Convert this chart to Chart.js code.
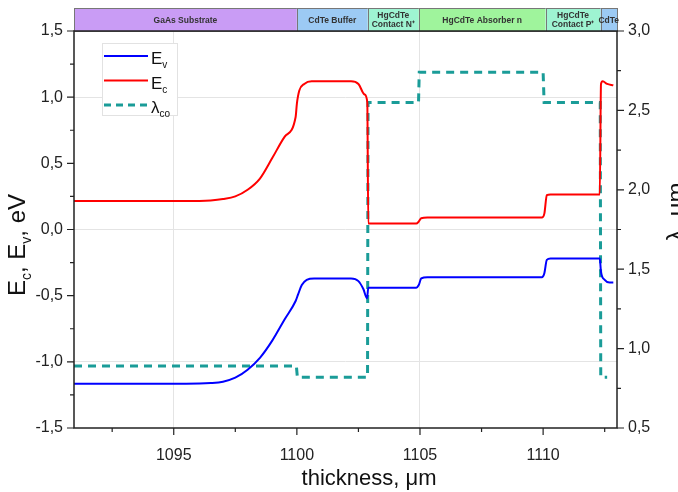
<!DOCTYPE html>
<html>
<head>
<meta charset="utf-8">
<script src="https://cdn.jsdelivr.net/npm/chart.js@4.4.1/dist/chart.umd.min.js"></script>
<style>
  body { margin: 0; background: #fff; }
  canvas { display: block; }
</style>
</head>
<body>
<canvas id="bandChart" width="678" height="492"></canvas>
<script>
const FONT = '"Liberation Sans", Arial, sans-serif';

// valence band edge Ev, eV (left axis)
const evThickness = [1090.95, 1095.5, 1096.5, 1097.0, 1097.5, 1098.0, 1098.5, 1099.0, 1099.5, 1099.95, 1100.05, 1100.2, 1100.4, 1100.7,
  1102.2, 1102.5, 1102.7, 1102.85, 1102.9, 1104.85, 1104.95, 1105.05, 1105.3, 1109.95, 1110.05, 1110.15, 1110.3,
  1112.3, 1112.35, 1112.5, 1112.7, 1112.85];
const evValues = [-1.165, -1.165, -1.16, -1.15, -1.12, -1.06, -0.97, -0.84, -0.68, -0.54, -0.49, -0.42, -0.38, -0.37,
  -0.37, -0.39, -0.45, -0.52, -0.44, -0.44, -0.42, -0.37, -0.36, -0.36, -0.33, -0.23, -0.22,
  -0.22, -0.32, -0.38, -0.40, -0.40];

// conduction band edge Ec, eV (left axis)
const ecThickness = [1090.95, 1095.5, 1096.5, 1097.0, 1097.5, 1098.0, 1098.5, 1099.0, 1099.5, 1099.95, 1100.0, 1100.1, 1100.3, 1100.6,
  1102.2, 1102.5, 1102.75, 1102.86, 1102.9, 1104.85, 1104.95, 1105.05, 1105.3, 1109.95, 1110.05, 1110.15, 1110.3,
  1112.3, 1112.35, 1112.42, 1112.6, 1112.85];
const ecValues = [0.215, 0.215, 0.22, 0.23, 0.25, 0.30, 0.385, 0.54, 0.70, 0.85, 0.95, 1.05, 1.10, 1.12,
  1.12, 1.10, 1.02, 0.96, 0.045, 0.045, 0.06, 0.085, 0.09, 0.09, 0.12, 0.26, 0.265,
  0.265, 1.10, 1.12, 1.10, 1.09];

// cut-off wavelength, um (right axis)
const lambdaThickness = [1090.95, 1099.98, 1100.02, 1102.87, 1102.89, 1104.94, 1104.97, 1110.0, 1110.04, 1112.32, 1112.34, 1112.6];
const lambdaValues = [0.89, 0.89, 0.82, 0.82, 2.55, 2.55, 2.74, 2.74, 2.55, 2.55, 0.82, 0.82];

// layer stack above the plot
const layerNames = [["GaAs Substrate"], ["CdTe Buffer"], ["HgCdTe", "Contact N\u207A"], ["HgCdTe Absorber n"], ["HgCdTe", "Contact P\u207A"], ["CdTe"]];
const layerStarts = [1090.95, 1100.0, 1102.88, 1104.95, 1110.1, 1112.33];
const layerEnds = [1100.0, 1102.88, 1104.95, 1110.1, 1112.33, 1113.0];
const layerColors = ["#c99cf5", "#9ccaf4", "#9ef4d2", "#9ff49c", "#9ef4d2", "#9ccaf4"];

// labelled ticks
const thicknessTicks = [1095, 1100, 1105, 1110];
const energyTicks = [-1.5, -1.0, -0.5, 0.0, 0.5, 1.0, 1.5];
const lambdaTicks = [0.5, 1.0, 1.5, 2.0, 2.5, 3.0];
const thicknessGrid = [1095, 1105];
const energyGrid = [-1.0, 0.0, 1.0];

const has = (list, v) => list.some(t => Math.abs(t - v) < 1e-6);
const comma = v => v.toFixed(1).replace(".", ",");
const pts = (xs, ys) => xs.map((x, i) => ({ x, y: ys[i] }));

function richText(ctx, parts, x, y, size, align) {
  const subSize = Math.round(size * 0.6);
  const widths = parts.map(([t, sub]) => {
    ctx.font = (sub ? subSize : size) + "px " + FONT;
    return ctx.measureText(t).width;
  });
  const total = widths.reduce((a, b) => a + b, 0);
  let cx = align === "center" ? x - total / 2 : x;
  ctx.textAlign = "left";
  ctx.textBaseline = "alphabetic";
  parts.forEach(([t, sub], i) => {
    ctx.font = (sub ? subSize : size) + "px " + FONT;
    ctx.fillText(t, cx, sub ? y + size * 0.25 : y);
    cx += widths[i];
  });
}

const layerBand = {
  id: "layerBand",
  afterDraw(chart) {
    const { ctx, chartArea } = chart;
    const x = chart.scales.x;
    const top = 8, bottom = chartArea.top;
    ctx.save();
    layerStarts.forEach((s, i) => {
      const x0 = x.getPixelForValue(Math.max(s, x.min));
      const x1 = x.getPixelForValue(Math.min(layerEnds[i], x.max));
      ctx.fillStyle = layerColors[i];
      ctx.fillRect(x0, top, x1 - x0, bottom - top);
      ctx.strokeStyle = "#777";
      ctx.lineWidth = 1;
      ctx.strokeRect(Math.round(x0) + 0.5, top + 0.5, Math.round(x1 - x0), bottom - top);
      const lines = layerNames[i];
      ctx.fillStyle = "#333";
      ctx.font = "bold 8.5px " + FONT;
      ctx.textAlign = "center";
      ctx.textBaseline = "middle";
      const cy = (top + bottom) / 2 + 1;
      lines.forEach((t, j) => ctx.fillText(t, (x0 + x1) / 2, cy + (j - (lines.length - 1) / 2) * 9));
    });
    ctx.restore();
  }
};

const frameAndTicks = {
  id: "frameAndTicks",
  afterDraw(chart) {
    const { ctx, chartArea: a } = chart;
    const { x, y, y1 } = chart.scales;
    ctx.save();
    ctx.strokeStyle = "#222";
    ctx.lineWidth = 1.5;
    ctx.strokeRect(a.left, a.top, a.right - a.left, a.bottom - a.top);
    ctx.lineWidth = 1.2;
    ctx.beginPath();
    x.ticks.forEach(t => {
      const p = x.getPixelForValue(t.value);
      const len = has(thicknessTicks, t.value) ? 7 : 4;
      ctx.moveTo(p, a.bottom);
      ctx.lineTo(p, a.bottom + len);
    });
    y.ticks.forEach(t => {
      const p = y.getPixelForValue(t.value);
      const len = has(energyTicks, t.value) ? 7 : 4;
      ctx.moveTo(a.left, p);
      ctx.lineTo(a.left - len, p);
    });
    y1.ticks.forEach(t => {
      const p = y1.getPixelForValue(t.value);
      const len = has(lambdaTicks, t.value) ? 7 : 4;
      ctx.moveTo(a.right, p);
      ctx.lineTo(a.right + len, p);
    });
    ctx.stroke();

    // axis titles
    ctx.fillStyle = "#111";
    richText(ctx, [["thickness, \u03BCm"]], 369, 485, 22, "center");
    ctx.save();
    ctx.translate(25, 245);
    ctx.rotate(-Math.PI / 2);
    richText(ctx, [["E"], ["c", true], [", E"], ["v", true], [", eV"]], 0, 0, 24, "center");
    ctx.restore();
    ctx.save();
    ctx.translate(684, 212);
    ctx.rotate(-Math.PI / 2);
    richText(ctx, [["\u03BB, \u03BCm"]], 0, 0, 24, "center");
    ctx.restore();

    // legend
    const items = [
      { color: "#0000ff", dash: [], width: 2, parts: [["E"], ["v", true]] },
      { color: "#ff0000", dash: [], width: 2, parts: [["E"], ["c", true]] },
      { color: "#1a9c98", dash: [7, 5], width: 3, parts: [["\u03BB"], ["co", true]] }
    ];
    ctx.fillStyle = "#fff";
    ctx.fillRect(102, 43, 76, 73);
    ctx.strokeStyle = "#e2e2e2";
    ctx.lineWidth = 1;
    ctx.strokeRect(102.5, 43.5, 75, 72);
    items.forEach((it, i) => {
      const ly = 56 + i * 24.5;
      ctx.strokeStyle = it.color;
      ctx.lineWidth = it.width;
      ctx.setLineDash(it.dash);
      ctx.beginPath();
      ctx.moveTo(104, ly);
      ctx.lineTo(148, ly);
      ctx.stroke();
      ctx.setLineDash([]);
      ctx.fillStyle = "#111";
      richText(ctx, it.parts, 151, ly + 8, 17, "left");
    });
    ctx.restore();
  }
};

new Chart(document.getElementById("bandChart"), {
  type: "line",
  data: {
    datasets: [
      {
        label: "Ev",
        data: pts(evThickness, evValues),
        borderColor: "#0000ff",
        borderWidth: 2,
        pointRadius: 0,
        cubicInterpolationMode: "monotone",
        yAxisID: "y"
      },
      {
        label: "Ec",
        data: pts(ecThickness, ecValues),
        borderColor: "#ff0000",
        borderWidth: 2,
        pointRadius: 0,
        cubicInterpolationMode: "monotone",
        yAxisID: "y"
      },
      {
        label: "λco",
        data: pts(lambdaThickness, lambdaValues),
        borderColor: "#1a9c98",
        borderWidth: 3,
        borderDash: [8, 6],
        pointRadius: 0,
        tension: 0,
        yAxisID: "y1"
      }
    ]
  },
  options: {
    responsive: false,
    animation: false,
    layout: { padding: { top: 31, left: 0, right: 0, bottom: 0 } },
    plugins: { legend: { display: false }, tooltip: { enabled: false } },
    scales: {
      x: {
        type: "linear",
        min: 1090.95,
        max: 1113,
        afterFit: s => { s.height = 64; },
        border: { display: false },
        grid: {
          color: c => (c.tick && has(thicknessGrid, c.tick.value) ? "#e4e4e4" : "transparent"),
          tickColor: "transparent",
          tickLength: 7
        },
        ticks: {
          stepSize: 2.5,
          includeBounds: false,
          autoSkip: false,
          maxRotation: 0,
          padding: 11,
          color: "#222",
          font: { family: FONT, size: 16 },
          callback: v => (has(thicknessTicks, v) ? String(v) : "")
        }
      },
      y: {
        position: "left",
        min: -1.5,
        max: 1.5,
        afterFit: s => { s.width = 74; },
        border: { display: false },
        grid: {
          color: c => (c.tick && has(energyGrid, c.tick.value) ? "#e4e4e4" : "transparent"),
          tickColor: "transparent",
          tickLength: 7
        },
        ticks: {
          stepSize: 0.25,
          autoSkip: false,
          padding: 4,
          color: "#222",
          font: { family: FONT, size: 16 },
          callback: v => (has(energyTicks, v) ? comma(v) : "")
        }
      },
      y1: {
        position: "right",
        min: 0.5,
        max: 3.0,
        afterFit: s => { s.width = 61; },
        border: { display: false },
        grid: { drawOnChartArea: false, tickColor: "transparent", tickLength: 7 },
        ticks: {
          stepSize: 0.25,
          autoSkip: false,
          padding: 4,
          color: "#222",
          font: { family: FONT, size: 16 },
          callback: v => (has(lambdaTicks, v) ? comma(v) : "")
        }
      }
    }
  },
  plugins: [layerBand, frameAndTicks]
});
</script>
</body>
</html>
